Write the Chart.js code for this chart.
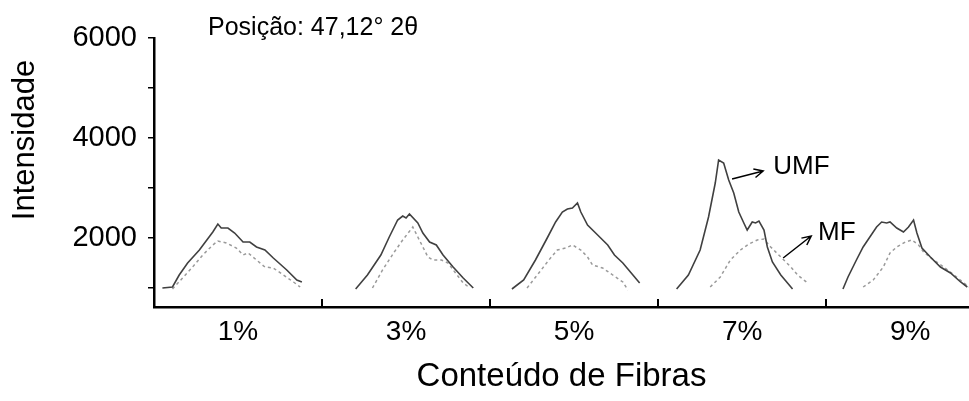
<!DOCTYPE html>
<html>
<head>
<meta charset="utf-8">
<script src="https://cdn.jsdelivr.net/npm/chart.js@4.4.1/dist/chart.umd.min.js"></script>
<style>
  html, body { margin: 0; padding: 0; background: #fff; }
  #wrap { width: 969px; height: 401px; position: relative; }
</style>
</head>
<body>
<div id="wrap"><canvas id="xrdChart"></canvas></div>
<script>
// ===== data =====
const categories = ['1%', '3%', '5%', '7%', '9%'];
const yTicks = [1000, 2000, 3000, 4000, 5000, 6000];
const yLabelled = [2000, 4000, 6000];
const chartTitle = 'Posição: 47,12° 2θ';

// position inside each category band (0..1) and intensity
const umfPos = [
  [.05, .11, .15, .20, .27, .35, .38, .40, .44, .48, .53, .57, .61, .66, .71, .79, .85, .88],
  [.20, .27, .35, .40, .45, .48, .50, .52, .57, .60, .64, .68, .72, .78, .84, .90],
  [.13, .20, .27, .34, .39, .43, .46, .49, .52, .54, .58, .64, .70, .74, .79, .85, .89],
  [.11, .18, .25, .30, .34, .36, .39, .42, .45, .48, .51, .53, .56, .58, .60, .63, .65, .68, .73, .77, .80],
  [.10, .13, .18, .22, .26, .30, .33, .36, .38, .42, .46, .49, .52, .54, .57, .62, .68, .74, .80, .84]
];
const umfVal = [
  [1000, 1020, 1260, 1500, 1760, 2120, 2280, 2200, 2200, 2100, 1920, 1920, 1820, 1760, 1600, 1360, 1160, 1120],
  [980, 1260, 1660, 2020, 2360, 2440, 2400, 2480, 2300, 2100, 1920, 1860, 1660, 1420, 1200, 1000],
  [980, 1160, 1560, 2000, 2320, 2520, 2580, 2600, 2700, 2520, 2260, 2060, 1860, 1660, 1500, 1260, 1100],
  [980, 1260, 1760, 2420, 3100, 3560, 3500, 3160, 2900, 2520, 2300, 2160, 2320, 2300, 2340, 2160, 1820, 1520, 1260, 1100, 980],
  [980, 1220, 1560, 1820, 2020, 2220, 2320, 2300, 2320, 2200, 2120, 2220, 2360, 2100, 1800, 1620, 1420, 1300, 1120, 1020]
];
const mfPos = [
  [.11, .17, .23, .29, .35, .38, .43, .49, .53, .56, .61, .66, .71, .77, .83, .87],
  [.30, .36, .43, .48, .54, .57, .60, .63, .66, .71, .75, .79, .84, .88],
  [.22, .29, .35, .40, .45, .49, .54, .58, .61, .67, .73, .79, .82],
  [.31, .37, .43, .49, .54, .59, .63, .67, .73, .79, .83, .89],
  [.22, .28, .34, .38, .42, .47, .51, .55, .58, .64, .70, .76, .82, .85]
];
const mfVal = [
  [980, 1200, 1420, 1660, 1860, 1940, 1900, 1800, 1660, 1700, 1560, 1420, 1400, 1260, 1120, 1020],
  [1000, 1360, 1720, 1960, 2220, 2020, 1820, 1620, 1560, 1560, 1500, 1320, 1100, 1000],
  [1000, 1300, 1560, 1760, 1800, 1860, 1760, 1620, 1460, 1400, 1260, 1120, 960],
  [1020, 1220, 1560, 1760, 1880, 1960, 1980, 1820, 1620, 1420, 1260, 1100],
  [1020, 1160, 1420, 1700, 1820, 1920, 1960, 1860, 1720, 1560, 1420, 1260, 1100, 1020]
];

// arrow annotations (data coords)
const annoText = ['UMF', 'MF'];
const annoTextAt = [[3.685, 3420], [3.952, 2100]];
const annoFrom = [[3.44, 3180], [3.744, 1600]];
const annoTo = [[3.625, 3340], [3.911, 2040]];

const FONT = "'Liberation Sans', Arial, sans-serif";

function series(pos, val) {
  const out = [];
  pos.forEach((band, i) => {
    band.forEach((p, j) => out.push({ x: i + p, y: val[i][j] }));
    out.push({ x: i + 1, y: null }); // break between bands
  });
  return out;
}

const extras = {
  id: 'extras',
  afterDatasetsDraw(chart) {
    const { ctx, scales: { x, y } } = chart;
    ctx.save();
    // band separators on the x axis
    ctx.strokeStyle = '#000';
    ctx.lineWidth = 2;
    for (let i = 1; i < categories.length; i++) {
      const px = Math.round(x.getPixelForValue(i));
      ctx.beginPath();
      ctx.moveTo(px, y.bottom);
      ctx.lineTo(px, y.bottom - 8);
      ctx.stroke();
    }
    // arrows + labels
    ctx.lineWidth = 1.5;
    ctx.fillStyle = '#000';
    ctx.font = '26px ' + FONT;
    ctx.textBaseline = 'middle';
    annoText.forEach((t, i) => {
      const x1 = x.getPixelForValue(annoFrom[i][0]), y1 = y.getPixelForValue(annoFrom[i][1]);
      const x2 = x.getPixelForValue(annoTo[i][0]), y2 = y.getPixelForValue(annoTo[i][1]);
      const a = Math.atan2(y2 - y1, x2 - x1);
      ctx.beginPath();
      ctx.moveTo(x1, y1); ctx.lineTo(x2, y2);
      ctx.moveTo(x2 - 10 * Math.cos(a - 0.45), y2 - 10 * Math.sin(a - 0.45));
      ctx.lineTo(x2, y2);
      ctx.lineTo(x2 - 10 * Math.cos(a + 0.45), y2 - 10 * Math.sin(a + 0.45));
      ctx.stroke();
      ctx.fillText(t, x.getPixelForValue(annoTextAt[i][0]), y.getPixelForValue(annoTextAt[i][1]));
    });
    // title inside the plot
    ctx.font = '25px ' + FONT;
    ctx.fillText(chartTitle, 208, 28);
    // y axis title
    ctx.translate(25, 140);
    ctx.rotate(-Math.PI / 2);
    ctx.textAlign = 'center';
    ctx.font = '31px ' + FONT;
    ctx.fillText('Intensidade', 0, 0);
    ctx.restore();
  }
};

new Chart(document.getElementById('xrdChart'), {
  type: 'line',
  data: {
    datasets: [
      {
        label: 'UMF',
        data: series(umfPos, umfVal),
        borderColor: '#404040',
        borderWidth: 1.6,
        pointRadius: 0,
        tension: 0,
        spanGaps: false
      },
      {
        label: 'MF',
        data: series(mfPos, mfVal),
        borderColor: '#9a9a9a',
        borderWidth: 1.5,
        borderDash: [3, 3],
        pointRadius: 0,
        tension: 0,
        spanGaps: false
      }
    ]
  },
  options: {
    responsive: true,
    maintainAspectRatio: false,
    devicePixelRatio: 1,
    animation: false,
    layout: { padding: { top: 38, right: 0, bottom: 0, left: 0 } },
    plugins: { legend: { display: false }, tooltip: { enabled: false } },
    scales: {
      x: {
        type: 'linear',
        min: 0,
        max: 4.85,
        afterBuildTicks: s => { s.ticks = categories.map((c, i) => ({ value: i + 0.5 })); },
        afterFit: s => { s.height = 94; },
        border: { display: true, color: '#000', width: 2.5 },
        grid: { display: true, drawOnChartArea: false, drawTicks: false },
        ticks: {
          autoSkip: false,
          maxRotation: 0,
          padding: 8,
          color: '#000',
          font: { family: FONT, size: 28 },
          callback: v => categories[Math.floor(v)]
        },
        title: {
          display: true,
          text: 'Conteúdo de Fibras',
          color: '#000',
          font: { family: FONT, size: 33 },
          padding: { top: 0, bottom: 4 }
        }
      },
      y: {
        min: 620,
        max: 6000,
        afterBuildTicks: s => { s.ticks = yTicks.map(v => ({ value: v })); },
        afterFit: s => { s.width = 154; },
        border: { display: true, color: '#000', width: 2.5 },
        grid: { drawOnChartArea: false, drawTicks: true, tickLength: 6, color: '#000', lineWidth: 1.5 },
        ticks: {
          padding: 11,
          color: '#000',
          font: { family: FONT, size: 29 },
          callback: v => (yLabelled.includes(v) ? String(v) : '')
        }
      }
    }
  },
  plugins: [extras]
});
</script>
</body>
</html>
